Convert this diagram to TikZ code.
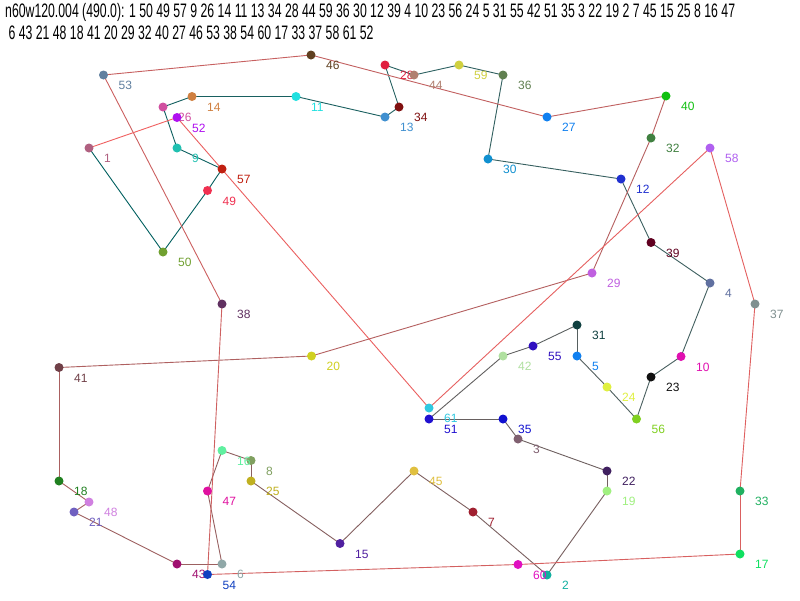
\documentclass[tikz,border=0pt]{standalone}
\usepackage{fontspec}
\setmainfont{Liberation Sans}
\usepackage{graphicx}
\usetikzlibrary{backgrounds}
\tikzset{
  dot/.style={circle,inner sep=0pt,minimum size=9pt,draw=none},
  lbl/.style={anchor=west,inner sep=0pt,font=\fontsize{12}{13}\selectfont},
  tour/.style={line width=0.9pt},
}
\newcommand\city[4]{%
  \definecolor{c#1}{HTML}{#4}%
  \node[dot,fill=c#1] (n#1) at (#2,#3) {};
  \node[lbl,text=c#1] (t#1) at ([xshift=15pt,yshift=-10.7pt]n#1.center) {#1};
}
\definecolor{eA}{RGB}{0,96,96}
\definecolor{eB}{RGB}{240,96,96}
\begin{document}
\begin{tikzpicture}[x=1pt,y=-1pt]
\useasboundingbox (0,0) rectangle (800,600);
\node[anchor=north west,inner sep=0pt] (hdr) at (5,3) {\resizebox{730pt}{\totalheight}{\fontsize{12}{13}\selectfont\begin{tabular}{@{}l@{}}n60w120.004 (490.0): 1 50 49 57 9 26 14 11 13 34 28 44 59 36 30 12 39 4 10 23 56 24 5 31 55 42 51 35 3 22 19 2 7 45 15 25 8 16 47\\ \ 6 43 21 48 18 41 20 29 32 40 27 46 53 38 54 60 17 33 37 58 61 52\end{tabular}}};
\city{1}{89}{148}{B06080}
\city{50}{163}{252}{70A030}
\city{49}{207.5}{190.5}{F03050}
\city{57}{222}{169}{C02010}
\city{9}{177}{148}{20C0B0}
\city{26}{163}{107}{D050A0}
\city{14}{192}{96.5}{D08040}
\city{11}{296}{96.5}{20E0E0}
\city{13}{385}{117}{4090D0}
\city{34}{399}{107}{801010}
\city{28}{385}{65}{E02040}
\city{44}{414}{75}{B08070}
\city{59}{459}{65}{D0D040}
\city{36}{503}{75}{608050}
\city{30}{488}{159}{1090D0}
\city{12}{621}{179}{2030D0}
\city{39}{651}{242.5}{600020}
\city{4}{710}{283}{6070A0}
\city{10}{681}{356.5}{E010B0}
\city{23}{651}{377}{101010}
\city{56}{636.5}{419}{80D020}
\city{24}{607}{387}{E0F040}
\city{5}{577}{356}{1080F0}
\city{31}{577}{325}{104040}
\city{55}{533}{346}{3010C0}
\city{42}{503}{356}{B0E0A0}
\city{51}{429}{419}{2010D0}
\city{35}{503}{419}{1010D0}
\city{3}{518}{439}{806070}
\city{22}{607}{471}{402060}
\city{19}{607}{491}{A0F080}
\city{2}{547}{575}{10B0A0}
\city{7}{473}{512}{A02030}
\city{45}{414}{471}{E0C040}
\city{15}{340}{543.5}{5020A0}
\city{25}{251}{481}{C0B020}
\city{8}{251}{460.5}{80A060}
\city{16}{222}{450.5}{60F0A0}
\city{47}{207.5}{491}{E010A0}
\city{6}{222}{564}{90A8A8}
\city{43}{177}{564}{A01070}
\city{21}{74}{512}{7060C0}
\city{48}{89}{502}{D080E0}
\city{18}{59}{481}{208020}
\city{41}{59}{367.5}{704048}
\city{20}{311.5}{356}{D0D020}
\city{29}{592}{273}{C060E0}
\city{32}{651}{138}{408040}
\city{40}{666}{96}{10C010}
\city{27}{547}{117}{1080F0}
\city{46}{311}{55}{604020}
\city{53}{103.5}{75}{6080A0}
\city{38}{222}{304}{603060}
\city{54}{207.5}{574.5}{1040C0}
\city{60}{518}{564.5}{E010C0}
\city{17}{740}{554}{10E060}
\city{33}{740}{491}{20B060}
\city{37}{755}{304}{809090}
\city{58}{710}{148}{B060F0}
\city{61}{429}{408}{30C8E0}
\city{52}{177}{117.5}{B010F0}
\begin{scope}[on background layer]
\fill[white] (0,0) rectangle (800,600);
\foreach \a/\b [count=\i from 0] in {1/50,50/49,49/57,57/9,9/26,26/14,14/11,11/13,13/34,34/28,28/44,44/59,59/36,36/30,30/12,12/39,39/4,4/10,10/23,23/56,56/24,24/5,5/31,31/55,55/42,42/51,51/35,35/3,3/22,22/19,19/2,2/7,7/45,45/15,15/25,25/8,8/16,16/47,47/6,6/43,43/21,21/48,48/18,18/41,41/20,20/29,29/32,32/40,40/27,27/46,46/53,53/38,38/54,54/60,60/17,17/33,33/37,37/58,58/61,61/52,52/1}{
  \pgfmathtruncatemacro\p{100*\i/60}
  \draw[tour,draw=eB!\p!eA] (n\a.center) -- (n\b.center);
}
\end{scope}
\end{tikzpicture}
\end{document}
